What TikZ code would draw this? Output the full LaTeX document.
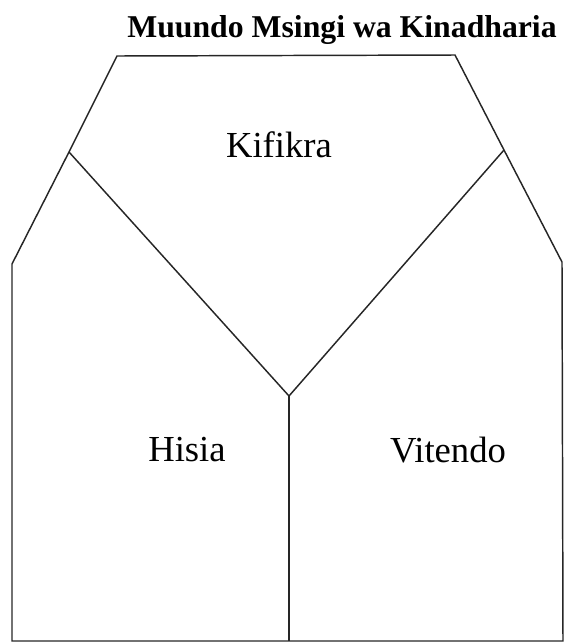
\documentclass[tikz,border=0pt]{standalone}
\usepackage{fontspec}
\setmainfont{Liberation Serif}
\begin{document}
\begin{tikzpicture}[x=0.75pt,y=-0.75pt,
  edge/.style={draw=black!85,line width=1.1pt,line join=miter},
  lbl/.style={font=\fontsize{27.5pt}{33pt}\selectfont,inner sep=0pt},
  ttl/.style={font=\fontsize{23.8pt}{28pt}\selectfont\bfseries,inner sep=0pt}]
\useasboundingbox (0,0) rectangle (567,644);
\coordinate (tl) at (117,56);
\coordinate (tr) at (455,55);
\coordinate (lj) at (69,152);
\coordinate (rj) at (504,150);
\coordinate (lb) at (12,264);
\coordinate (rb) at (562,262);
\coordinate (lbot) at (12,641);
\coordinate (rbot) at (563,641);
\coordinate (c) at (289,396);
\coordinate (cbot) at (289,641);
\draw[edge] (lbot) -- (lb) -- (lj) -- (tl) -- (tr) -- (rj) -- (rb) -- (rbot) -- cycle;
\draw[edge] (lj) -- (c) -- (rj);
\draw[edge] (c) -- (cbot);
\node[ttl] (title) at (342,30) {Muundo Msingi wa Kinadharia};
\node[lbl] (kifikra) at (279,145) {Kifikra};
\node[lbl] (hisia) at (187,450) {Hisia};
\node[lbl] (vitendo) at (448,450) {Vitendo};
\end{tikzpicture}
\end{document}
